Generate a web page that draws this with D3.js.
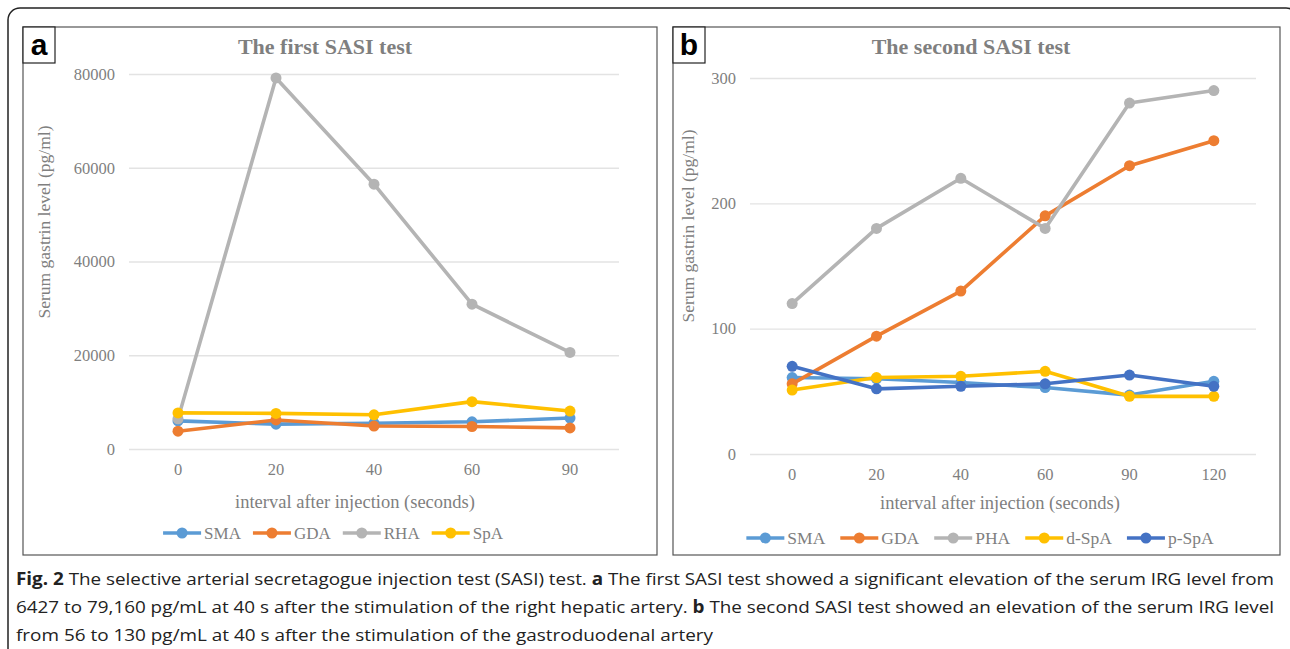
<!DOCTYPE html>
<html>
<head>
<meta charset="utf-8">
<script src="https://cdn.jsdelivr.net/npm/d3@7/dist/d3.min.js"></script>
<style>
  html, body { margin: 0; padding: 0; background: #fff; }
  svg { display: block; }
</style>
</head>
<body>
<svg id="fig" width="1290" height="649"></svg>
<script>
// --- data ---
const catsA = ['0', '20', '40', '60', '90'];
const catsB = ['0', '20', '40', '60', '90', '120'];
const ticksA = [0, 20000, 40000, 60000, 80000];
const ticksB = [0, 100, 200, 300];

const smaA = [6000, 5300, 5500, 5800, 6600];
const gdaA = [3800, 6200, 4900, 4800, 4500];
const rhaA = [6427, 79160, 56500, 30900, 20600];
const spaA = [7700, 7600, 7300, 10100, 8100];

const smaB  = [61, 60, 57, 53, 47, 58];
const gdaB  = [56, 94, 130, 190, 230, 250];
const phaB  = [120, 180, 220, 180, 280, 290];
const dspaB = [51, 61, 62, 66, 46, 46];
const pspaB = [70, 52, 54, 56, 63, 54];

const colors = {SMA:'#5b9bd5', GDA:'#ed7d31', RHA:'#b4b4b4', PHA:'#b4b4b4', SpA:'#ffc000', 'd-SpA':'#ffc000', 'p-SpA':'#4472c4'};

const svg = d3.select('#fig');
const serif = 'Liberation Serif, Times New Roman, serif';

// outer rounded frame (right edge runs off the picture)
svg.append('rect').attr('x', 8).attr('y', 8).attr('width', 1290).attr('height', 660)
  .attr('rx', 12).attr('fill', 'none').attr('stroke', '#222').attr('stroke-width', 1.5);

function panel(opt) {
  const g = svg.append('g');
  g.append('rect').attr('x', opt.box[0]).attr('y', opt.box[1])
    .attr('width', opt.box[2] - opt.box[0]).attr('height', opt.box[3] - opt.box[1])
    .attr('fill', '#fff').attr('stroke', '#555').attr('stroke-width', 1.2);

  // panel letter
  g.append('rect').attr('x', opt.box[0]).attr('y', opt.box[1]).attr('width', 32).attr('height', 36)
    .attr('fill', '#fff').attr('stroke', '#222').attr('stroke-width', 1.2);
  g.append('text').attr('x', opt.box[0] + 16).attr('y', opt.box[1] + 28)
    .attr('text-anchor', 'middle').attr('font-family', 'Liberation Sans, Arial, sans-serif')
    .attr('font-weight', 'bold').attr('font-size', 30).attr('fill', '#000').text(opt.letter);

  g.append('text').attr('x', opt.titleX).attr('y', 54).attr('text-anchor', 'middle')
    .attr('font-family', serif).attr('font-weight', 'bold').attr('font-size', 22)
    .attr('fill', '#7f7f7f').text(opt.title);

  const x = d3.scaleBand().domain(opt.cats).range([opt.plot[0], opt.plot[1]]);
  const y = d3.scaleLinear().domain(opt.ydom).range([opt.plot[3], opt.plot[2]]);

  // gridlines + y labels
  const ya = g.append('g').attr('transform', `translate(${opt.plot[0]},0)`)
    .call(d3.axisLeft(y).tickValues(opt.ticks).tickFormat(d3.format('d'))
      .tickSize(-(opt.plot[1] - opt.plot[0])).tickPadding(14));
  ya.select('.domain').remove();
  ya.selectAll('line').attr('stroke', '#e3e3e3').attr('stroke-width', 1.3);
  ya.selectAll('text').attr('font-family', serif).attr('font-size', 16.5).attr('fill', '#7f7f7f');

  const xa = g.append('g').attr('transform', `translate(0,${opt.plot[3]})`)
    .call(d3.axisBottom(x).tickSize(0).tickPadding(14));
  xa.select('.domain').remove();
  xa.selectAll('text').attr('font-family', serif).attr('font-size', 16.5).attr('fill', '#7f7f7f');

  g.append('text').attr('transform', `translate(${opt.ytitleX},${opt.ytitleY}) rotate(-90)`)
    .attr('text-anchor', 'middle').attr('font-family', serif).attr('font-size', 17.5)
    .attr('fill', '#7f7f7f').text('Serum gastrin level (pg/ml)');
  g.append('text').attr('x', opt.xtitleX).attr('y', opt.xtitleY)
    .attr('text-anchor', 'middle').attr('font-family', serif).attr('font-size', 18.5)
    .attr('fill', '#7f7f7f').text('interval after injection (seconds)');

  const line = d3.line().x((d, i) => x(opt.cats[i]) + x.bandwidth() / 2).y(d => y(d));
  opt.series.forEach(s => {
    const c = colors[s.name];
    g.append('path').datum(s.values).attr('d', line).attr('fill', 'none')
      .attr('stroke', c).attr('stroke-width', 3.6).attr('stroke-linejoin', 'round');
    g.selectAll(null).data(s.values).enter().append('circle')
      .attr('cx', (d, i) => x(opt.cats[i]) + x.bandwidth() / 2).attr('cy', d => y(d))
      .attr('r', 5.5).attr('fill', c);
  });

  // legend
  const lg = g.append('g');
  let pos = 0;
  opt.series.forEach(s => {
    const c = colors[s.name];
    const it = lg.append('g').attr('transform', `translate(${pos},0)`);
    it.append('line').attr('x1', 0).attr('x2', 38).attr('y1', 0).attr('y2', 0)
      .attr('stroke', c).attr('stroke-width', 3.6);
    it.append('circle').attr('cx', 19).attr('cy', 0).attr('r', 5.5).attr('fill', c);
    const t = it.append('text').attr('x', 41).attr('y', 6).attr('font-family', serif)
      .attr('font-size', opt.legendFont).attr('fill', '#7f7f7f').text(s.name);
    pos += 41 + t.node().getComputedTextLength() + opt.legendGap;
  });
  pos -= opt.legendGap;
  lg.attr('transform', `translate(${opt.legendX - pos / 2},${opt.legendY})`);
}

panel({
  letter: 'a', title: 'The first SASI test', box: [23, 27, 657, 555], titleX: 325,
  plot: [129, 619, 74, 449], cats: catsA, ydom: [0, 80000], ticks: ticksA,
  ytitleX: 50, ytitleY: 222, xtitleX: 355, xtitleY: 508,
  legendX: 333, legendY: 533, legendFont: 17, legendGap: 12,
  series: [{name:'SMA', values: smaA}, {name:'GDA', values: gdaA}, {name:'RHA', values: rhaA}, {name:'SpA', values: spaA}]
});
panel({
  letter: 'b', title: 'The second SASI test', box: [673, 27, 1280, 555], titleX: 971,
  plot: [750, 1256, 78, 454], cats: catsB, ydom: [0, 300], ticks: ticksB,
  ytitleX: 694, ytitleY: 226, xtitleX: 1000, xtitleY: 509,
  legendX: 980, legendY: 538, legendFont: 17.5, legendGap: 15,
  series: [{name:'SMA', values: smaB}, {name:'GDA', values: gdaB}, {name:'PHA', values: phaB}, {name:'d-SpA', values: dspaB}, {name:'p-SpA', values: pspaB}]
});

// caption
const cap = svg.append('g').attr('font-family', 'Open Sans, sans-serif').attr('font-size', 17).attr('fill', '#222');
const l1 = cap.append('text').attr('x', 16).attr('y', 585).attr('textLength', 1258).attr('lengthAdjust', 'spacingAndGlyphs');
l1.append('tspan').attr('font-weight', 'bold').text('Fig. 2');
l1.append('tspan').text(' The selective arterial secretagogue injection test (SASI) test. ');
l1.append('tspan').attr('font-weight', 'bold').text('a');
l1.append('tspan').text(' The first SASI test showed a significant elevation of the serum IRG level from');
const l2 = cap.append('text').attr('x', 16).attr('y', 613).attr('textLength', 1258).attr('lengthAdjust', 'spacingAndGlyphs');
l2.append('tspan').text('6427 to 79,160 pg/mL at 40 s after the stimulation of the right hepatic artery. ');
l2.append('tspan').attr('font-weight', 'bold').text('b');
l2.append('tspan').text(' The second SASI test showed an elevation of the serum IRG level');
cap.append('text').attr('x', 16).attr('y', 641).attr('textLength', 697).attr('lengthAdjust', 'spacingAndGlyphs')
  .text('from 56 to 130 pg/mL at 40 s after the stimulation of the gastroduodenal artery');
</script>
</body>
</html>
